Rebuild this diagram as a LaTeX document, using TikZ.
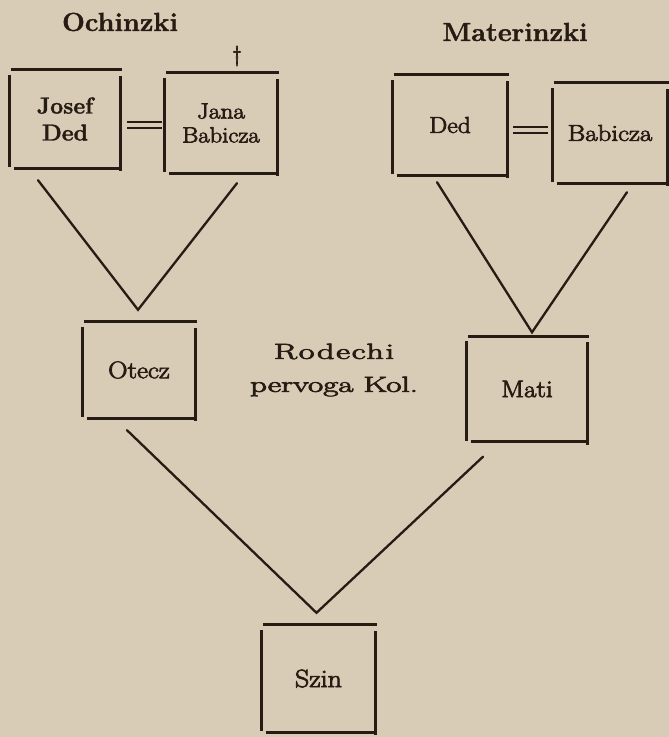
\documentclass[tikz,border=0pt]{standalone}
\usepackage{fontspec}
\usepackage{graphicx}
\usetikzlibrary{calc}
\newfontfamily\inkfont{Latin Modern Roman}[FakeBold=3]
\newfontfamily\inkspaced{Latin Modern Roman}[FakeBold=3, LetterSpace=5]
\newfontfamily\headfont{Latin Modern Roman}[FakeBold=1.5, BoldFeatures={FakeBold=1.5}]
\definecolor{paper}{RGB}{216,204,182}
\definecolor{ink}{RGB}{38,28,20}
\newcommand\wideTxt[2][1.3]{\scalebox{#1}[1]{#2}}
\newcommand\kinFrame[1]{%
  \draw[frame] ($(#1.north west)+(1,0)$) -- ($(#1.north east)+(2,0)$);
  \draw[frame] ($(#1.north west)+(0,5)$) -- ($(#1.south west)+(0,-1)$);
  \draw[frame] ($(#1.south west)+(4,0)$) -- ($(#1.south east)+(-1,0)$);
  \draw[frame] ($(#1.north east)+(0,6)$) -- ($(#1.south east)+(0,3)$);
}
\tikzset{
  frame/.style={draw=ink, line width=2.8pt, line cap=butt},
  link/.style={draw=ink, line width=2.3pt, line cap=round},
  eq/.style={draw=ink, line width=2pt},
  person/.style={inner sep=0pt, align=center, text=ink},
  label/.style={inner sep=0pt, align=center, text=ink},
}
\begin{document}
\begin{tikzpicture}[x=1pt, y=-1pt]
\fill[paper] (0,0) rectangle (669,737);
\useasboundingbox (0,0) rectangle (669,737);

% titles
\node[label, font=\headfont\bfseries\fontsize{26}{28}\selectfont] (och) at (120,22) {\wideTxt[1.04]{Ochinzki}};
\node[label, font=\headfont\bfseries\fontsize{26}{28}\selectfont] (mat) at (515,32) {\wideTxt[1.04]{Materinzki}};
\node[label, font=\inkfont\fontsize{22}{24}\selectfont] (dag) at (237,56) {\textdagger};

% persons
\node[person, minimum width=110, minimum height=98,
      font=\headfont\bfseries\fontsize{23}{27}\selectfont] (jd) at (65,119) {Josef\\Ded};
\node[person, minimum width=112, minimum height=100,
      font=\inkfont\fontsize{22}{24}\selectfont] (jb) at (221,123) {\wideTxt[1.15]{Jana}\\\wideTxt[1.12]{Babicza}};
\node[person, minimum width=114, minimum height=100,
      font=\inkfont\fontsize{23}{26}\selectfont] (mded) at (450,125) {\wideTxt[1.12]{Ded}};
\node[person, minimum width=114, minimum height=100,
      font=\inkfont\fontsize{23}{26}\selectfont] (mbab) at (610,133) {\wideTxt[1.17]{Babicza}};
\node[person, minimum width=112, minimum height=96,
      font=\inkfont\fontsize{24}{26}\selectfont] (otecz) at (139,370) {\wideTxt[1.12]{Otecz}};
\node[person, minimum width=120, minimum height=105,
      font=\inkfont\fontsize{24}{26}\selectfont] (mati) at (527,389) {\wideTxt[1.12]{Mati}};
\node[person, minimum width=113, minimum height=107,
      font=\inkfont\fontsize{25}{26}\selectfont] (szin) at (318.5,678.5) {\wideTxt[1.12]{Szin}};

\node[label, font=\inkfont\fontsize{22}{33}\selectfont] (rod) at (334,370)
  {\wideTxt[1.55]{{\inkspaced Rodechi}}\\\wideTxt[1.5]{pervoga Kol.}};

\kinFrame{jd}
\kinFrame{jb}
\kinFrame{mded}
\kinFrame{mbab}
\kinFrame{otecz}
\kinFrame{mati}
\kinFrame{szin}

% marriage signs
\draw[eq] ($(jd.east)+(7,3)$) -- ($(jb.west)+(-3,-1)$);
\draw[eq] ($(jd.east)+(7,9)$) -- ($(jb.west)+(-3,5)$);
\draw[eq] ($(mded.east)+(6,2)$) -- ($(mbab.west)+(-5,-6)$);
\draw[eq] ($(mded.east)+(6,8)$) -- ($(mbab.west)+(-5,0)$);

% descent lines
\coordinate (v1) at ($(otecz.north)+(-1,-12)$);
\coordinate (v2) at ($(mati.north)+(5,-4)$);
\coordinate (v3) at ($(szin.north)+(-2,-12)$);
\draw[link] ($(jd.south)+(-27,12)$) -- (v1) -- ($(jb.south)+(16,10)$);
\draw[link] ($(mded.south)+(-13,7)$) -- (v2) -- ($(mbab.south)+(17,9)$);
\draw[link] ($(otecz.south)+(-12,12)$) -- (v3) -- ($(mati.south)+(-44,15)$);
\end{tikzpicture}
\end{document}
